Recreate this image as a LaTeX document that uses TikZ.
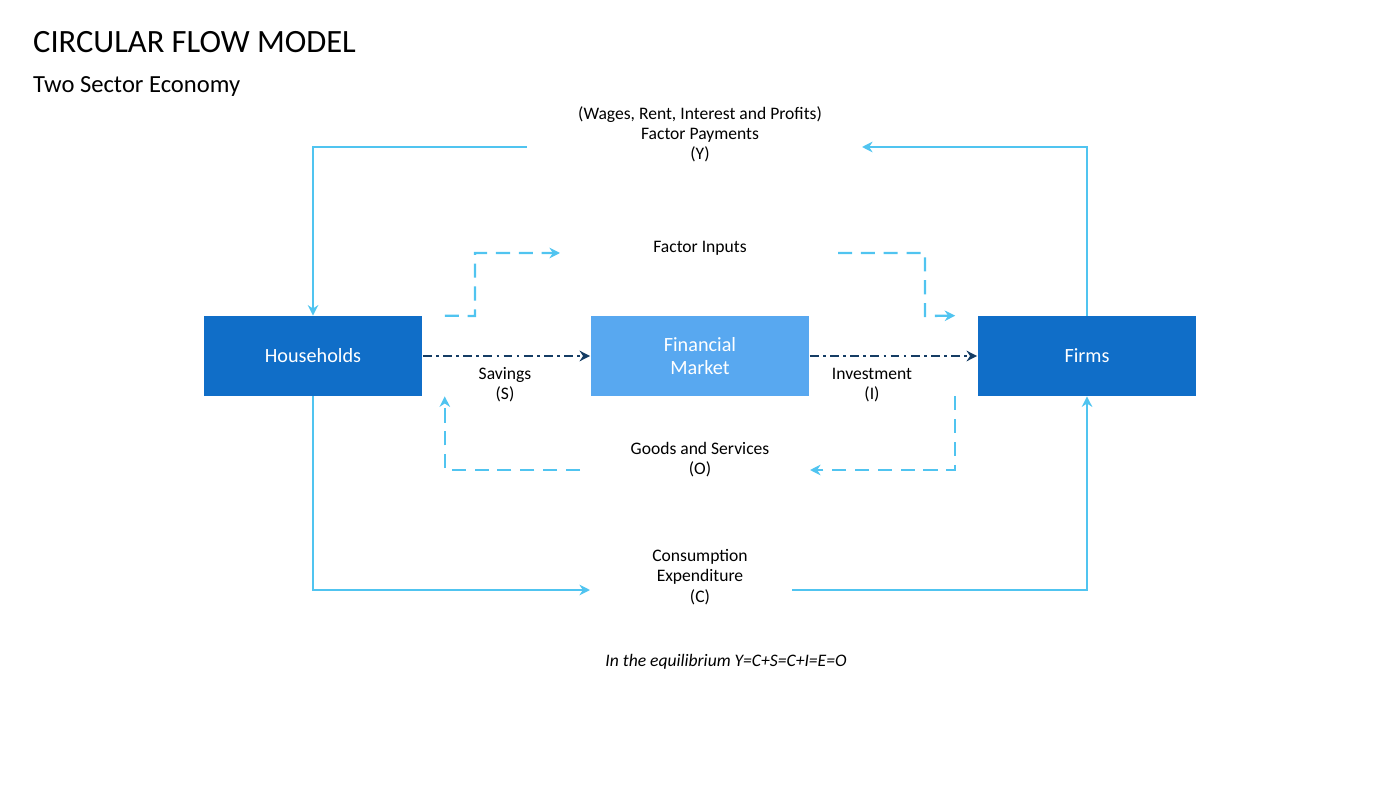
\documentclass[tikz,border=0pt]{standalone}
\usepackage{fontspec}
\setmainfont{Carlito}
\usepackage{tikz}
\usetikzlibrary{arrows.meta}
\usetikzlibrary{positioning}
\definecolor{flowblue}{RGB}{80,196,240}
\definecolor{boxdark}{RGB}{16,110,200}
\definecolor{boxlight}{RGB}{88,168,240}
\definecolor{navyline}{RGB}{20,60,100}
\tikzstyle{box}  = [rectangle,text=white,minimum width=4.38cm,minimum height=1.6cm,font=\fontsize{11.5}{13}\selectfont,align=center]
\tikzstyle{lab}  = [align=center,font=\fontsize{10}{11.5}\selectfont]
\tikzstyle{flow} = [flowblue,line width=1.3pt,-{Stealth[length=6pt,width=6pt]}]
\tikzstyle{dflow} = [flow,dash pattern=on 8pt off 5pt]
\tikzstyle{sflow} = [navyline,line width=1.1pt,dash pattern=on 5pt off 2.5pt on 1.5pt off 2.5pt,-{Stealth[length=6pt,width=6pt]}]

\begin{document}
\begin{tikzpicture}[x=0.02cm,y=-0.02cm]
\useasboundingbox (0,0) rectangle (1400,787);

\node[anchor=west,font=\fontsize{18.5}{20}\selectfont] (T1) at (27,42) {CIRCULAR FLOW MODEL};
\node[anchor=west,font=\fontsize{14}{16}\selectfont] (T2) at (27,87) {Two Sector Economy};

\node[box, fill=boxdark] (H) at (313,356) {Households};
\node[box, fill=boxlight] (M) at (700,356) {Financial\\Market};
\node[box, fill=boxdark] (F) at (1087,356) {Firms};

\node[lab] (LY) at (700,134) {(Wages, Rent, Interest and Profits)\\Factor Payments\\(Y)};
\node[lab] (LFI) at (700,248) {Factor Inputs};
\node[lab] (LS) at (505,385) {Savings\\(S)};
\node[lab] (LI) at (872,385) {Investment\\(I)};
\node[lab] (LO) at (700,460) {Goods and Services\\(O)};
\node[lab] (LC) at (700,577) {Consumption\\Expenditure\\(C)};
\node[lab,font=\fontsize{10}{11.5}\selectfont\itshape] (EQ) at (726,662) {In the equilibrium Y=C+S=C+I=E=O};

\coordinate (y1) at (862,147);  \coordinate (y2) at (527,147);
\coordinate (f1) at (560,253);  \coordinate (f2) at (838,253);
\coordinate (o1) at (810,470);  \coordinate (o2) at (580,470);
\coordinate (c1) at (590,590);  \coordinate (c2) at (792,590);

% factor payments
\draw[flow] (F.north) |- (y1);
\draw[flow] (y2) -| (H.north);
% factor inputs
\draw[dflow] ([xshift=75]H.north) -- (475,316) |- (f1);
\draw[dflow] (f2) -| (925,316) -- ([xshift=-75]F.north);
% savings and investment
\draw[sflow] (H) -- (M);
\draw[sflow] (M) -- (F);
% goods and services
\draw[dflow] ([xshift=-75]F.south) |- (o1);
\draw[dflow] (o2) -| ([xshift=75]H.south);
% consumption
\draw[flow] (H.south) |- (c1);
\draw[flow] (c2) -| (F.south);
\end{tikzpicture}
\end{document}
